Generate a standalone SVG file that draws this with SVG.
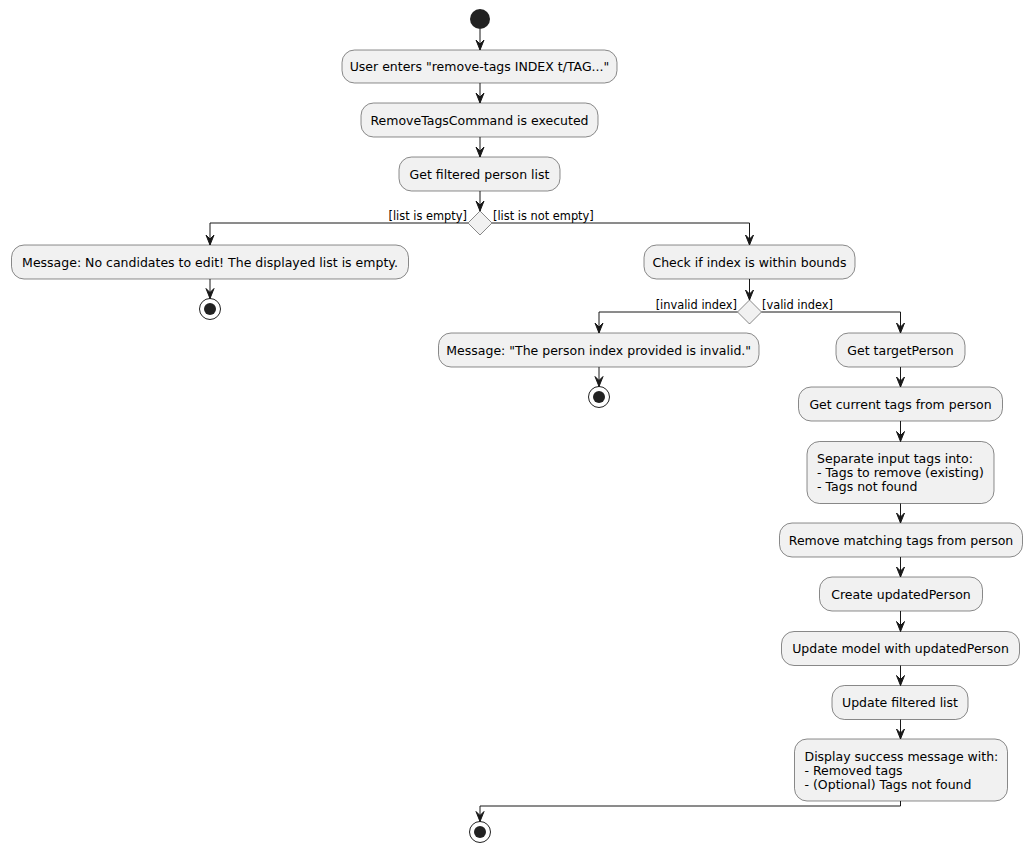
<svg xmlns="http://www.w3.org/2000/svg" width="1032" height="853" viewBox="0 0 1032 853">
<style>
.box{fill:#F1F1F1;stroke:#181818;stroke-width:0.5}
.t{font-family:"DejaVu Sans",sans-serif;font-size:12.5px;fill:#000}
.c{text-anchor:middle}
.lbl{font-family:"DejaVu Sans",sans-serif;font-size:11.4px;fill:#000}
.ln{fill:none;stroke:#181818;stroke-width:1}
.ah{fill:#181818;stroke:#181818;stroke-width:1}
.dot{fill:#222222}
.ring{fill:none;stroke:#222222;stroke-width:1}
</style>
<rect width="1032" height="853" fill="#FFFFFF"/>
<g id="start"><circle class="dot" cx="480" cy="19" r="10"/></g>
<g id="n1"><rect class="box" x="342" y="50" width="275" height="33" rx="12.5"/><text class="t c" x="479.5" y="71">User enters "remove-tags INDEX t/TAG..."</text></g>
<g id="n2"><rect class="box" x="361" y="103" width="237" height="34" rx="12.5"/><text class="t c" x="479.5" y="125">RemoveTagsCommand is executed</text></g>
<g id="n3"><rect class="box" x="399" y="157" width="161" height="34" rx="12.5"/><text class="t c" x="479.5" y="179">Get filtered person list</text></g>
<g id="d1"><polygon class="box" points="480,211 492,223 480,235 468,223"/></g>
<g id="n4"><rect class="box" x="11.5" y="245" width="397" height="34" rx="12.5"/><text class="t c" x="210" y="267">Message: No candidates to edit! The displayed list is empty.</text></g>
<g id="end1"><circle class="ring" cx="210" cy="309" r="10.5"/><circle class="dot" cx="210" cy="309" r="6"/></g>
<g id="n5"><rect class="box" x="644" y="245" width="211" height="34" rx="12.5"/><text class="t c" x="749.5" y="267">Check if index is within bounds</text></g>
<g id="d2"><polygon class="box" points="749.5,300 761.5,312 749.5,324 737.5,312"/></g>
<g id="n6"><rect class="box" x="438.5" y="333" width="320.5" height="34" rx="12.5"/><text class="t c" x="598.7" y="355">Message: "The person index provided is invalid."</text></g>
<g id="end2"><circle class="ring" cx="599" cy="397" r="10.5"/><circle class="dot" cx="599" cy="397" r="6"/></g>
<g id="n7"><rect class="box" x="836" y="333" width="129" height="34" rx="12.5"/><text class="t c" x="900.5" y="355">Get targetPerson</text></g>
<g id="n8"><rect class="box" x="798.5" y="387" width="204" height="34" rx="12.5"/><text class="t c" x="900.5" y="409">Get current tags from person</text></g>
<g id="n9"><rect class="box" x="807" y="441.5" width="187" height="62" rx="12.5"/><text class="t" x="817" y="463">Separate input tags into:</text><text class="t" x="817" y="477">- Tags to remove (existing)</text><text class="t" x="817" y="491">- Tags not found</text></g>
<g id="n10"><rect class="box" x="779.5" y="523" width="243" height="34" rx="12.5"/><text class="t c" x="901" y="545">Remove matching tags from person</text></g>
<g id="n11"><rect class="box" x="819.5" y="577" width="163" height="34" rx="12.5"/><text class="t c" x="901" y="599">Create updatedPerson</text></g>
<g id="n12"><rect class="box" x="781.5" y="631.5" width="238" height="34" rx="12.5"/><text class="t c" x="900.5" y="653">Update model with updatedPerson</text></g>
<g id="n13"><rect class="box" x="832" y="685.5" width="136" height="34" rx="12.5"/><text class="t c" x="900" y="707">Update filtered list</text></g>
<g id="n14"><rect class="box" x="794.5" y="739" width="213" height="62" rx="12.5"/><text class="t" x="804.5" y="761">Display success message with:</text><text class="t" x="804.5" y="775">- Removed tags</text><text class="t" x="804.5" y="789">- (Optional) Tags not found</text></g>
<g id="end3"><circle class="ring" cx="480" cy="832" r="10.5"/><circle class="dot" cx="480" cy="832" r="6"/></g>
<g id="connectors">
<path class="ln" d="M480,29 V50"/><polygon class="ah" points="476,40 480,50 484,40 480,44"/>
<path class="ln" d="M480,83 V103"/><polygon class="ah" points="476,93 480,103 484,93 480,97"/>
<path class="ln" d="M480,137 V157"/><polygon class="ah" points="476,147 480,157 484,147 480,151"/>
<path class="ln" d="M480,191 V211"/><polygon class="ah" points="476,201 480,211 484,201 480,205"/>
<path class="ln" d="M468,223 H210 V245"/><polygon class="ah" points="206,235 210,245 214,235 210,239"/>
<text class="lbl" x="467" y="220" text-anchor="end">[list is empty]</text>
<path class="ln" d="M492,223 H749.5 V245"/><polygon class="ah" points="745.5,235 749.5,245 753.5,235 749.5,239"/>
<text class="lbl" x="493" y="220">[list is not empty]</text>
<path class="ln" d="M210,279 V298.5"/><polygon class="ah" points="206,288.5 210,298.5 214,288.5 210,292.5"/>
<path class="ln" d="M749.5,279 V300"/><polygon class="ah" points="745.5,290 749.5,300 753.5,290 749.5,294"/>
<path class="ln" d="M737.5,312 H599 V333"/><polygon class="ah" points="595,323 599,333 603,323 599,327"/>
<text class="lbl" x="737" y="309" text-anchor="end">[invalid index]</text>
<path class="ln" d="M761.5,312 H900.5 V333"/><polygon class="ah" points="896.5,323 900.5,333 904.5,323 900.5,327"/>
<text class="lbl" x="762" y="309">[valid index]</text>
<path class="ln" d="M599,367 V386.5"/><polygon class="ah" points="595,376.5 599,386.5 603,376.5 599,380.5"/>
<path class="ln" d="M900.5,367 V387"/><polygon class="ah" points="896.5,377 900.5,387 904.5,377 900.5,381"/>
<path class="ln" d="M900.5,421 V441.5"/><polygon class="ah" points="896.5,431.5 900.5,441.5 904.5,431.5 900.5,435.5"/>
<path class="ln" d="M900.5,503.5 V523"/><polygon class="ah" points="896.5,513 900.5,523 904.5,513 900.5,517"/>
<path class="ln" d="M900.5,557 V577"/><polygon class="ah" points="896.5,567 900.5,577 904.5,567 900.5,571"/>
<path class="ln" d="M900.5,611 V631.5"/><polygon class="ah" points="896.5,621.5 900.5,631.5 904.5,621.5 900.5,625.5"/>
<path class="ln" d="M900.5,665.5 V685.5"/><polygon class="ah" points="896.5,675.5 900.5,685.5 904.5,675.5 900.5,679.5"/>
<path class="ln" d="M900.5,719.5 V739"/><polygon class="ah" points="896.5,729 900.5,739 904.5,729 900.5,733"/>
<path class="ln" d="M900.5,801 V806 H480 V821.5"/><polygon class="ah" points="476,811.5 480,821.5 484,811.5 480,815.5"/>
</g>
</svg>
